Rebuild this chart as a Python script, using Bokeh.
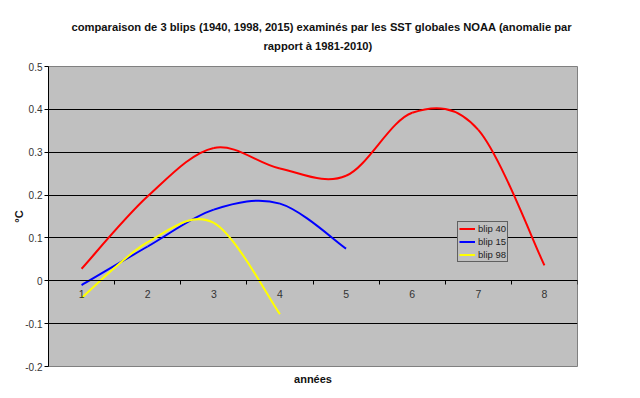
from bokeh.plotting import figure
from bokeh.models import (Range1d, FixedTicker, CustomJSTickFormatter, LinearAxis,
                          Title, Legend, LegendItem, Grid)
from bokeh.embed import file_html
from bokeh.resources import INLINE

# ---- data ----
title_line1 = "comparaison de 3 blips (1940, 1998, 2015) examinés par les SST globales NOAA (anomalie par"
title_line2 = "rapport à 1981-2010)"
x_title = "années"
y_title = "°C"

years_x = [1, 2, 3, 4, 5, 6, 7, 8]
blip40 = [0.028, 0.197, 0.31, 0.262, 0.245, 0.392, 0.352, 0.036]
blip15 = [-0.01, 0.08, 0.166, 0.18, 0.075]
blip98 = [-0.04, 0.09, 0.135, -0.078]

series = [
    ("blip 40", blip40, "#ff0000"),
    ("blip 15", blip15, "#0000ff"),
    ("blip 98", blip98, "#ffff00"),
]

y_ticks = [-0.2, -0.1, 0, 0.1, 0.2, 0.3, 0.4, 0.5]


def smooth_segments(xs, ys):
    """Excel-like smoothing: Catmull-Rom converted to cubic Bezier control points."""
    n = len(xs)
    px = [xs[0]] + list(xs) + [xs[-1]]
    py = [ys[0]] + list(ys) + [ys[-1]]
    d = dict(x0=[], y0=[], x1=[], y1=[], cx0=[], cy0=[], cx1=[], cy1=[])
    for i in range(1, n):
        d["x0"].append(px[i]); d["y0"].append(py[i])
        d["x1"].append(px[i + 1]); d["y1"].append(py[i + 1])
        d["cx0"].append(px[i] + (px[i + 1] - px[i - 1]) / 6)
        d["cy0"].append(py[i] + (py[i + 1] - py[i - 1]) / 6)
        d["cx1"].append(px[i + 1] - (px[i + 2] - px[i]) / 6)
        d["cy1"].append(py[i + 1] - (py[i + 2] - py[i]) / 6)
    return d


p = figure(width=640, height=398, output_backend="svg", toolbar_location=None,
           title=None, x_range=Range1d(0.5, 8.5), y_range=Range1d(-0.2, 0.5),
           x_axis_type=None, y_axis_type=None,
           min_border_left=48, min_border_right=63, min_border_top=66,
           min_border_bottom=32)

p.background_fill_color = "#c0c0c0"
p.border_fill_color = "white"
p.outline_line_color = "#808080"
p.outline_line_width = 1

# y axis
yaxis = LinearAxis(ticker=FixedTicker(ticks=y_ticks),
                   formatter=CustomJSTickFormatter(code="return Number(tick.toFixed(1)).toString();"))
yaxis.axis_label = y_title
yaxis.axis_label_text_font = "Liberation Sans"
yaxis.axis_label_text_font_style = "bold"
yaxis.axis_label_text_font_size = "11px"
yaxis.axis_label_text_color = "#111111"
yaxis.axis_label_standoff = -3
yaxis.major_label_text_font = "Liberation Sans"
yaxis.major_label_text_font_size = "10px"
yaxis.major_label_text_color = "#333333"
yaxis.major_label_standoff = 2
yaxis.major_tick_in = 0
yaxis.major_tick_out = 4
yaxis.major_tick_line_color = "#000000"
yaxis.minor_tick_line_color = None
yaxis.axis_line_color = "#000000"
p.add_layout(yaxis, "left")

# x axis crossing at y = 0
xaxis = LinearAxis(ticker=FixedTicker(ticks=years_x,
                                      minor_ticks=[v + 0.5 for v in [0] + years_x]),
                   fixed_location=0)
xaxis.major_label_text_font = "Liberation Sans"
xaxis.major_label_text_font_size = "10.5px"
xaxis.major_label_text_color = "#333333"
xaxis.major_label_standoff = 5
xaxis.major_tick_in = 0
xaxis.major_tick_out = 0
xaxis.minor_tick_in = 0
xaxis.minor_tick_out = 4
xaxis.minor_tick_line_color = "#000000"
xaxis.axis_line_color = "#000000"
p.add_layout(xaxis, "below")

# horizontal gridlines
grid = Grid(dimension=1, ticker=yaxis.ticker, grid_line_color="#000000", grid_line_width=1)
p.add_layout(grid, "center")

# titles (second line nearer the frame is added first)
t2 = Title(text=title_line2, align="left", offset=215, text_font="Liberation Sans",
           text_font_size="11.2px", text_font_style="bold", text_color="#111111", standoff=29)
t1 = Title(text=title_line1, align="left", offset=23, text_font="Liberation Sans",
           text_font_size="11.2px", text_font_style="bold", text_color="#111111", standoff=-19)
p.add_layout(t2, "above")
p.add_layout(t1, "above")
tb = Title(text=x_title, align="center", text_font="Liberation Sans",
           text_font_size="11px", text_font_style="bold", text_color="#111111", standoff=8)
p.add_layout(tb, "below")

items = []
for name, ys, col in series:
    r = p.bezier(source=smooth_segments(years_x[:len(ys)], ys),
                 x0="x0", y0="y0", x1="x1", y1="y1",
                 cx0="cx0", cy0="cy0", cx1="cx1", cy1="cy1",
                 line_color=col, line_width=2)
    items.append(LegendItem(label=name, renderers=[r]))

legend = Legend(items=items, location=(409, 104))
legend.background_fill_color = "#c0c0c0"
legend.background_fill_alpha = 1
legend.border_line_color = "#000000"
legend.border_line_width = 1
legend.label_text_font = "Liberation Sans"
legend.label_text_font_size = "9.5px"
legend.label_text_color = "#222222"
legend.padding = 1
legend.margin = 0
legend.spacing = 2
legend.label_height = 11
legend.glyph_height = 11
legend.glyph_width = 16
legend.label_standoff = 3
p.add_layout(legend, "center")

open("out.html", "w").write(file_html(p, INLINE))
